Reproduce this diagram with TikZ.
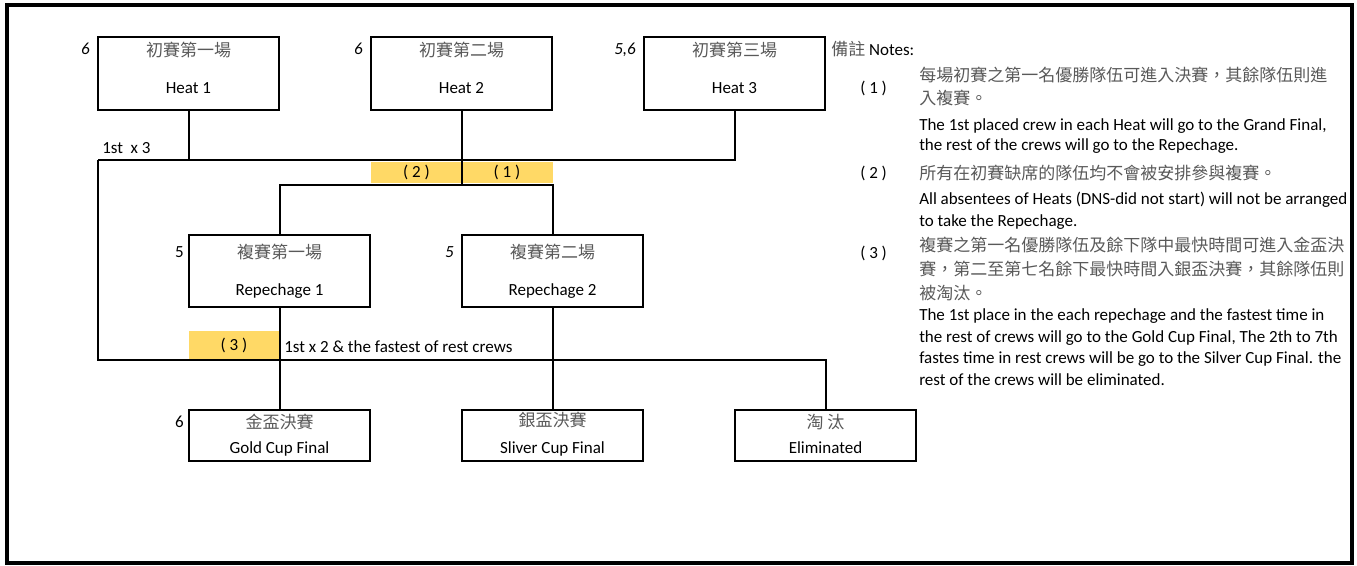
\documentclass[tikz,border=0pt]{standalone}
\usepackage{fontspec}
\setmainfont{Carlito}
\newfontfamily\cjk{Noto Sans CJK TC}
\usetikzlibrary{positioning}
\definecolor{notegold}{HTML}{FFD966}
\definecolor{cjkgray}{HTML}{595959}

\begin{document}
\begin{tikzpicture}[
    x=0.75pt, y=-0.75pt,
    font=\fontsize{12.75}{15}\selectfont,
    racebox/.style={
        rectangle,
        draw=black,
        line width=1.5pt,
        minimum width=135.75pt,
        inner sep=0pt
    },
    heatbox/.style={racebox, minimum height=54.75pt},
    repbox/.style={racebox, minimum height=54pt},
    finalbox/.style={racebox, minimum height=38.25pt},
    cntext/.style={
        font=\cjk\fontsize{12.75}{15}\selectfont,
        text=cjkgray,
        inner sep=0pt
    },
    entext/.style={inner sep=0pt},
    crewnum/.style={inner sep=0pt, anchor=base east},
    notebar/.style={
        fill=notegold,
        inner sep=0pt,
        minimum width=68.25pt,
        minimum height=15.75pt
    },
    link/.style={line width=1.5pt},
    frame/.style={line width=2.5pt}
]

\useasboundingbox (0,0) rectangle (1357,565);
\draw[frame] (7,5) rectangle (1352,563);

% heats
\node (heat1) [heatbox] at (188.5,73.5) {};
\node (heat2) [heatbox] at (461.5,73.5) {};
\node (heat3) [heatbox] at (734.5,73.5) {};
\node (heat1cn) [cntext, anchor=base] at ([yshift=-15pt]heat1.north) {初賽第一場};
\node (heat2cn) [cntext, anchor=base] at ([yshift=-15pt]heat2.north) {初賽第二場};
\node (heat3cn) [cntext, anchor=base] at ([yshift=-15pt]heat3.north) {初賽第三場};
\node (heat1en) [entext, anchor=base] at ([yshift=13.5pt]heat1.south) {Heat 1};
\node (heat2en) [entext, anchor=base] at ([yshift=13.5pt]heat2.south) {Heat 2};
\node (heat3en) [entext, anchor=base] at ([yshift=13.5pt]heat3.south) {Heat 3};
\node (heat1num) [crewnum] at ([shift={(-5.25pt,-14pt)}]heat1.north west) {\textit{6}};
\node (heat2num) [crewnum] at ([shift={(-5.25pt,-14pt)}]heat2.north west) {\textit{6}};
\node (heat3num) [crewnum] at ([shift={(-5.25pt,-14pt)}]heat3.north west) {\textit{5,6}};

% repechages
\node (rep1) [repbox] at (279.5,271) {};
\node (rep2) [repbox] at (552.5,271) {};
\node (rep1cn) [cntext, anchor=base] at ([yshift=-18pt]rep1.north) {複賽第一場};
\node (rep2cn) [cntext, anchor=base] at ([yshift=-18pt]rep2.north) {複賽第二場};
\node (rep1en) [entext, anchor=base] at ([yshift=9.75pt]rep1.south) {Repechage 1};
\node (rep2en) [entext, anchor=base] at ([yshift=9.75pt]rep2.south) {Repechage 2};
\node (rep1num) [crewnum] at ([shift={(-3pt,-17.25pt)}]rep1.north west) {5};
\node (rep2num) [crewnum] at ([shift={(-5.25pt,-17.25pt)}]rep2.north west) {\textit{5}};

% finals
\node (gold) [finalbox] at (279.5,435.5) {};
\node (silver) [finalbox] at (552.5,435.5) {};
\node (elim) [finalbox] at (825.5,435.5) {};
\node (goldcn) [cntext, anchor=base] at ([yshift=-14.25pt]gold.north) {金盃決賽};
\node (silvercn) [cntext, anchor=base] at ([yshift=-12.75pt]silver.north) {銀盃決賽};
\node (elimcn) [cntext, anchor=base] at ([yshift=-14.25pt]elim.north) {淘 汰};
\node (golden) [entext, anchor=base] at ([yshift=6.75pt]gold.south) {Gold Cup Final};
\node (silveren) [entext, anchor=base] at ([yshift=6.75pt]silver.south) {Sliver Cup Final};
\node (elimen) [entext, anchor=base] at ([yshift=6.75pt]elim.south) {Eliminated};
\node (goldnum) [crewnum] at ([shift={(-3pt,-13.5pt)}]gold.north west) {6};

% highlighted note marks
\node (bar2) [notebar] at (416.5,172.5) {( 2 )};
\node (bar1) [notebar] at (507,172.5) {( 1 )};
\node (bar3) [notebar, minimum width=67.5pt, minimum height=21pt] at (234,345) {( 3 )};

\node (heatqual) [entext, anchor=base west] at (102,153) {1st\ \ x 3};
\node (repqual) [entext, anchor=base west] at (284,352) {1st x 2 \& the fastest of rest crews};

% connectors
\coordinate (heatbus) at (98,160);
\coordinate (repbus) at (280,185);
\coordinate (finalbus) at (98,360);

\draw[link] (heat1.south) -- (heat1.south |- heatbus);
\draw[link] (heatbus) -| (heat3.south);
\draw[link] (heat2.south) -- (heat2.south |- repbus);
\draw[link] (rep1.north) |- (rep2.north |- repbus) -- (rep2.north);
\draw[link] (heatbus) -- (finalbus) -| (elim.north);
\draw[link] (rep1.south) -- (gold.north);
\draw[link] (rep2.south) -- (silver.north);

% notes
\node (notehead) [entext, anchor=base west] at (831,55) {{\cjk\color{cjkgray}備註} Notes:};

\node (note1no) [entext, anchor=base west] at (860,93) {( 1 )};
\node (note1cna) [cntext, anchor=base west] at (919,81) {每場初賽之第一名優勝隊伍可進入決賽，其餘隊伍則進};
\node (note1cnb) [cntext, anchor=base west] at (919,104) {入複賽。};
\node (note1ena) [entext, anchor=base west] at (919,130) {The 1st placed crew in each Heat will go to the Grand Final,};
\node (note1enb) [entext, anchor=base west] at (919,150) {the rest of the crews will go to the Repechage.};

\node (note2no) [entext, anchor=base west] at (860,178) {( 2 )};
\node (note2cn) [cntext, anchor=base west] at (919,179) {所有在初賽缺席的隊伍均不會被安排參與複賽。};
\node (note2ena) [entext, anchor=base west] at (919,204) {All absentees of Heats (DNS-did not start) will not be arranged};
\node (note2enb) [entext, anchor=base west] at (919,226) {to take the Repechage.};

\node (note3no) [entext, anchor=base west] at (860,258) {( 3 )};
\node (note3cna) [cntext, anchor=base west] at (919,251) {複賽之第一名優勝隊伍及餘下隊中最快時間可進入金盃決};
\node (note3cnb) [cntext, anchor=base west] at (919,275) {賽，第二至第七名餘下最快時間入銀盃決賽，其餘隊伍則};
\node (note3cnc) [cntext, anchor=base west] at (919,299) {被淘汰。};
\node (note3ena) [entext, anchor=base west] at (919,320) {The 1st place in the each repechage and the fastest time in};
\node (note3enb) [entext, anchor=base west] at (919,342) {the rest of crews will go to the Gold Cup Final, The 2th to 7th};
\node (note3enc) [entext, anchor=base west] at (919,363) {fastes time in rest crews will be go to the Silver Cup Final. the};
\node (note3end) [entext, anchor=base west] at (919,385) {rest of the crews will be eliminated.};

\end{tikzpicture}
\end{document}
